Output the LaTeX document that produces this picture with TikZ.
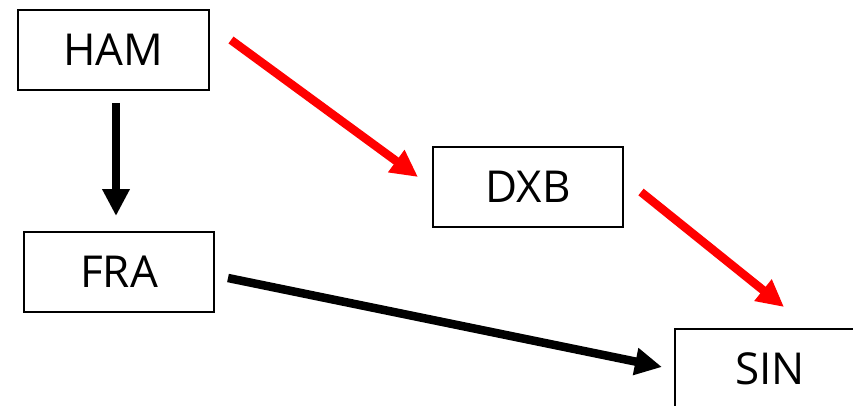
\documentclass[tikz,border=0pt]{standalone}
\usepackage{fontspec}
\setmainfont{Open Sans}
\usetikzlibrary{arrows.meta,calc}
\begin{document}
\begin{tikzpicture}[x=1pt,y=-1pt,
  box/.style={draw=black,line width=2pt,minimum width=190pt,minimum height=80pt,inner sep=0pt,font=\fontsize{44}{50}\selectfont,fill=white},
  conn/.style={line width=8.5pt,-{Triangle[length=27pt,width=26pt]}},
  redconn/.style={conn,draw=red,color=red}]
\useasboundingbox (0,0) rectangle (853,406);
\clip (0,0) rectangle (853,406);
\node[box,minimum width=191pt] (HAM) at (113.5,50) {HAM};
\node[box] (FRA) at (119,272) {FRA};
\node[box] (DXB) at (528,187) {DXB};
\node[box] (SIN) at (770,369) {SIN};
\draw[conn] ($(HAM.south)+(2.5,12)$) -- ($(FRA.north)+(-3,-15)$);
\draw[redconn] ($(HAM.east)+(21,-10)$) -- ($(DXB.west)+(-14,-10)$);
\draw[redconn] ($(DXB.east)+(17,5)$) -- ($(SIN.north)+(14,-21)$);
\draw[conn] ($(FRA.east)+(13,6)$) -- ($(SIN.west)+(-12,-2)$);
\end{tikzpicture}
\end{document}
